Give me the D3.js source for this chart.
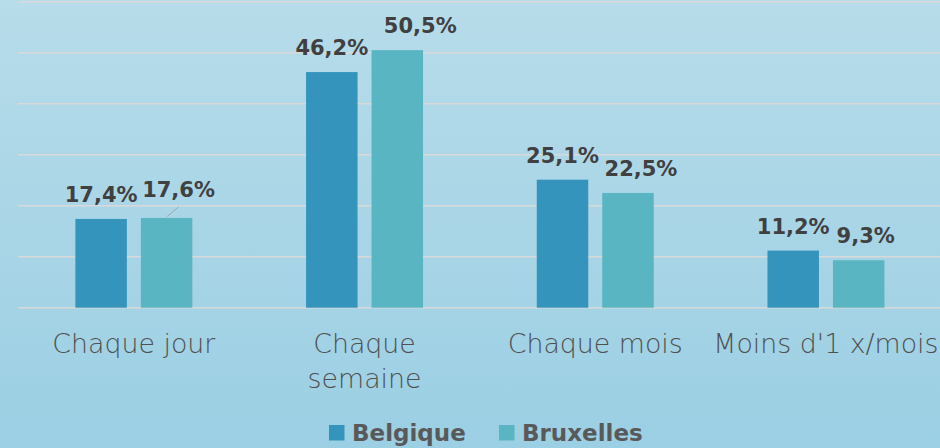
<html>
<head>
<meta charset="utf-8">
<title>Fréquence</title>
<style>
body { margin: 0; }
svg { display: block; }
text { font-family: "DejaVu Sans", sans-serif; }
</style>
</head>
<body>
<svg width="940" height="448"></svg>
<script src="https://d3js.org/d3.v7.min.js"></script>
<script>

// data
var categories = ["Chaque jour", "Chaque semaine", "Chaque mois", "Moins d'1 x/mois"];
var tickLabels = [["Chaque jour"], ["Chaque", "semaine"], ["Chaque mois"], ["Moins d'1 x/mois"]];
var series = ["Belgique", "Bruxelles"];
var belgique = [17.4, 46.2, 25.1, 11.2];
var bruxelles = [17.6, 50.5, 22.5, 9.3];
var yTicks = [0, 10, 20, 30, 40, 50, 60];

// label nudges for the Bruxelles series (as in the original layout)
var nudgeX = [12, 23, 13, 7], nudgeY = [-4, 0, 0, 0];

var colors = { "Belgique": "#3594bb", "Bruxelles": "#58b5c1" };

var svg = d3.select("svg");

var defs = svg.append("defs");
var grad = defs.append("linearGradient")
    .attr("id", "bg").attr("x1", 0).attr("y1", 0).attr("x2", 0).attr("y2", 1);
grad.append("stop").attr("offset", "0%").attr("stop-color", "#b7dcea");
grad.append("stop").attr("offset", "100%").attr("stop-color", "#9bcfe3");

svg.append("rect").attr("width", 940).attr("height", 448).attr("fill", "url(#bg)");

var x0 = d3.scaleBand()
    .domain(categories)
    .range([18.5, 941.3])
    .paddingInner(0.493)
    .paddingOuter(0.2465);

var x1 = d3.scaleBand()
    .domain(series)
    .range([0, x0.bandwidth()])
    .paddingInner(0.2137);

var y = d3.scaleLinear().domain([0, 60]).range([307.7, 1.7]);

// gridlines
svg.append("g").selectAll("line")
  .data(yTicks)
  .enter().append("line")
    .attr("x1", 18).attr("x2", 940)
    .attr("y1", function(d) { return y(d); })
    .attr("y2", function(d) { return y(d); })
    .attr("stroke", "#d9d9d9")
    .attr("stroke-width", 1.6);

var rows = categories.map(function(c, i) {
  return { cat: c, i: i, values: [
    { s: "Belgique", v: belgique[i] },
    { s: "Bruxelles", v: bruxelles[i] }
  ] };
});

var group = svg.append("g").selectAll("g")
  .data(rows)
  .enter().append("g")
    .attr("transform", function(d) { return "translate(" + x0(d.cat) + ",0)"; });

group.selectAll("rect")
  .data(function(d) { return d.values; })
  .enter().append("rect")
    .attr("x", function(d) { return x1(d.s); })
    .attr("y", function(d) { return y(d.v); })
    .attr("width", x1.bandwidth())
    .attr("height", function(d) { return y(0) - y(d.v); })
    .attr("fill", function(d) { return colors[d.s]; });

// value labels
var fmt = function(v) { return d3.format(".1f")(v).replace(".", ",") + "%"; };

group.each(function(row) {
  var g = d3.select(this);
  row.values.forEach(function(d) {
    var cx = x1(d.s) + x1.bandwidth() / 2;
    var dx = d.s === "Bruxelles" ? nudgeX[row.i] : 0;
    var dy = d.s === "Bruxelles" ? nudgeY[row.i] : 0;
    var by = y(d.v) - 17 + dy;
    if (d.s === "Bruxelles" && row.i === 0) {
      g.append("line")
        .attr("x1", cx).attr("y1", y(d.v) - 1)
        .attr("x2", cx + dx).attr("y2", y(d.v) - 11)
        .attr("stroke", "#a0a8ac").attr("stroke-width", 1);
    }
    g.append("text")
      .attr("x", cx + dx)
      .attr("y", by)
      .attr("text-anchor", "middle")
      .attr("font-size", "21px")
      .attr("font-weight", "bold")
      .attr("fill", "#404040")
      .text(fmt(d.v));
  });
});

// category labels
svg.append("g").selectAll("text")
  .data(categories)
  .enter().append("text")
    .attr("x", function(d) { return x0(d) + x0.bandwidth() / 2; })
    .attr("y", 353)
    .attr("text-anchor", "middle")
    .attr("font-size", "26.8px")
    .attr("font-weight", 300)
    .attr("fill", "#505050")
  .selectAll("tspan")
  .data(function(d, i) { return tickLabels[i]; })
  .enter().append("tspan")
    .attr("x", function() { return this.parentNode.getAttribute("x"); })
    .attr("dy", function(d, i) { return i ? 35 : 0; })
    .text(function(d) { return d; });

// legend
var legendX = [329, 499];
var legend = svg.append("g").selectAll("g")
  .data(series)
  .enter().append("g")
    .attr("transform", function(d, i) { return "translate(" + legendX[i] + ",425)"; });

legend.append("rect")
    .attr("width", 15.5).attr("height", 15.5)
    .attr("fill", function(d) { return colors[d]; });

legend.append("text")
    .attr("x", 23).attr("y", 16)
    .attr("font-size", "23px")
    .attr("font-weight", "bold")
    .attr("fill", "#595959")
    .text(function(d) { return d; });

</script>
</body>
</html>
